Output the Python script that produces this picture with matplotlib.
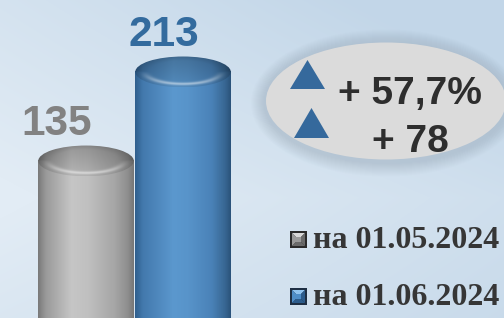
import numpy as np
import matplotlib
matplotlib.use("Agg")
import matplotlib.pyplot as plt
from matplotlib.patches import Ellipse, Rectangle, Polygon
from matplotlib.colors import LinearSegmentedColormap, to_rgb

# ---- data ----
categories = ['на 01.05.2024', 'на 01.06.2024']
values = [135, 213]
value_labels = ['135', '213']
change_pct = '+ 57,7%'
change_abs = '+ 78'

# ---- styles ----
body_stops = [
    [(0.0, '#7a7a7a'), (0.08, '#9a9a9a'), (0.35, '#c6c6c6'), (0.52, '#c0c0c0'),
     (0.8, '#a6a6a6'), (0.94, '#8e8e8e'), (1.0, '#777777')],
    [(0.0, '#2f5f8e'), (0.08, '#4379ad'), (0.4, '#5b98ce'), (0.55, '#5894ca'),
     (0.8, '#4a82b8'), (0.94, '#386793'), (1.0, '#2b537b')],
]
label_colors = ['#828282', '#336b9e']
label_dx = [-21, -14]
marker_colors = [('#2a2a2a', '#d8d8d8', '#9a9a9a', '#6a6a6a'),
                 ('#1e2f44', '#8fc3ef', '#4f8ec8', '#2c5c8c')]

W, H = 504, 318
fig = plt.figure(figsize=(W / 100, H / 100), dpi=100)

# ---- decoration axes in pixel space ----
dax = fig.add_axes([0, 0, 1, 1], zorder=0)
dax.set_xlim(0, W)
dax.set_ylim(H, 0)
dax.axis('off')

# background gradient
yy, xx = np.mgrid[0:H, 0:W]
xn, yn = xx / W, yy / H
c_light = np.array(to_rgb('#e2ecf5'))
c_dark = np.array(to_rgb('#c2d6e8'))
t = np.clip(0.55 * xn + 0.55 * np.abs(yn - 0.62) * 1.4 - 0.05 + 0.25 * xn * (1 - yn), 0, 1)
bg = c_light[None, None, :] * (1 - t[..., None]) + c_dark[None, None, :] * t[..., None]
dax.imshow(bg, extent=[0, W, H, 0], aspect='auto', zorder=-10, interpolation='bilinear')

# soft shadow + ellipse
ecx, ecy, ew, eh = 386, 101, 240, 117
for k in range(14):
    grow = 30 - 2 * k
    dax.add_patch(Ellipse((ecx, ecy + 2), ew + grow, eh + grow, facecolor='#9aabbb',
                          edgecolor='none', alpha=0.035, zorder=1))
dax.add_patch(Ellipse((ecx, ecy), ew, eh, facecolor='#dbdbdb', edgecolor='none', zorder=2))

tri_color = '#35699c'
dax.add_patch(Polygon([[290, 89], [325, 89], [307.5, 60]], closed=True,
                      facecolor=tri_color, edgecolor='none', zorder=3))
dax.add_patch(Polygon([[294, 138], [329, 138], [311.5, 108]], closed=True,
                      facecolor=tri_color, edgecolor='none', zorder=3))
dax.text(410, 104, change_pct, ha='center', va='baseline', fontsize=28, fontweight='bold',
         family='Liberation Sans', color='#2e2e2e', zorder=4)
dax.text(410, 152, change_abs, ha='center', va='baseline', fontsize=28, fontweight='bold',
         family='Liberation Sans', color='#2e2e2e', zorder=4)

# legend
leg_y = [248, 305]
for i, cat in enumerate(categories):
    x0, y1 = 290, leg_y[i]
    s = 17
    y0 = y1 - s
    frame, light, mid, dark = marker_colors[i]
    dax.add_patch(Rectangle((x0, y0), s, s, facecolor=frame, edgecolor='none', zorder=3))
    a, b = x0 + 2, x0 + s - 2
    c, d = y0 + 2, y1 - 2
    m = 4
    ia, ib, ic, idd = a + m, b - m, c + m, d - m
    dax.add_patch(Polygon([[a, c], [b, c], [ib, ic], [ia, ic]], facecolor=light, edgecolor='none', zorder=4))
    dax.add_patch(Polygon([[a, c], [ia, ic], [ia, idd], [a, d]], facecolor=mid, edgecolor='none', zorder=4))
    dax.add_patch(Polygon([[b, c], [b, d], [ib, idd], [ib, ic]], facecolor=dark, edgecolor='none', zorder=4))
    dax.add_patch(Polygon([[a, d], [ia, idd], [ib, idd], [b, d]], facecolor=dark, edgecolor='none', zorder=4))
    dax.add_patch(Rectangle((ia, ic), ib - ia, idd - ic, facecolor=mid, edgecolor='none', zorder=4))
    dax.text(313, y1, cat, ha='left', va='baseline', fontsize=23, fontweight='bold',
             family='Liberation Serif', color='#363636', zorder=4)

# ---- main data axes ----
ax = fig.add_axes([0, 0, 1, 1], zorder=1)
ax.patch.set_alpha(0)
xlim = (-0.887, 4.309)
ylim = (-2.6, 276)
ax.set_xlim(*xlim)
ax.set_ylim(*ylim)
ax.axis('off')

bar_w = 0.985
cap_h = 13.5
ybot = ylim[0] - 5
pos = np.arange(len(values))

for i, v in enumerate(values):
    xc = pos[i]
    x0, x1 = xc - bar_w / 2, xc + bar_w / 2
    cmap = LinearSegmentedColormap.from_list(f'c{i}', body_stops[i])
    z = 2 + i * 2
    grad = np.linspace(0, 1, 300)[None, :]
    ax.imshow(grad, cmap=cmap, extent=[x0, x1, ybot, v], aspect='auto',
              interpolation='bilinear', zorder=z, origin='lower')
    # cap
    n = 200
    uu = np.linspace(-1, 1, n)[None, :].repeat(n, 0)
    tt = np.linspace(-1, 1, n)[:, None].repeat(n, 1)
    r = np.sqrt(uu ** 2 + tt ** 2)
    base = cmap((uu + 1) / 2)[..., :3]
    fac = 0.84 + 0.08 * (-tt)
    fac = np.where((tt > 0) & (r > 0.7), fac - 0.08 * (r - 0.7) / 0.3, fac)
    img = base * fac[..., None]
    hl = 0.5 * np.exp(-((r - 0.8) / 0.09) ** 2) * np.clip(-tt * 1.3, 0, 1)
    img = img * (1 - hl[..., None]) + hl[..., None] * 1.0
    img = np.clip(img, 0, 1)
    im = ax.imshow(img, extent=[x0, x1, v - cap_h, v + cap_h], aspect='auto',
                   interpolation='bilinear', zorder=z + 1, origin='lower')
    ell = Ellipse((xc, v), bar_w, 2 * cap_h, transform=ax.transData, facecolor='none')
    im.set_clip_path(ell)
    ax.annotate(value_labels[i], xy=(xc, v), xytext=(label_dx[i], 18.5), textcoords='offset points',
                ha='center', va='baseline', fontsize=30.5, fontweight='bold',
                family='Liberation Sans', color=label_colors[i], zorder=10)

ax.set_xlim(*xlim)
ax.set_ylim(*ylim)

fig.savefig('out.png', dpi=100)
